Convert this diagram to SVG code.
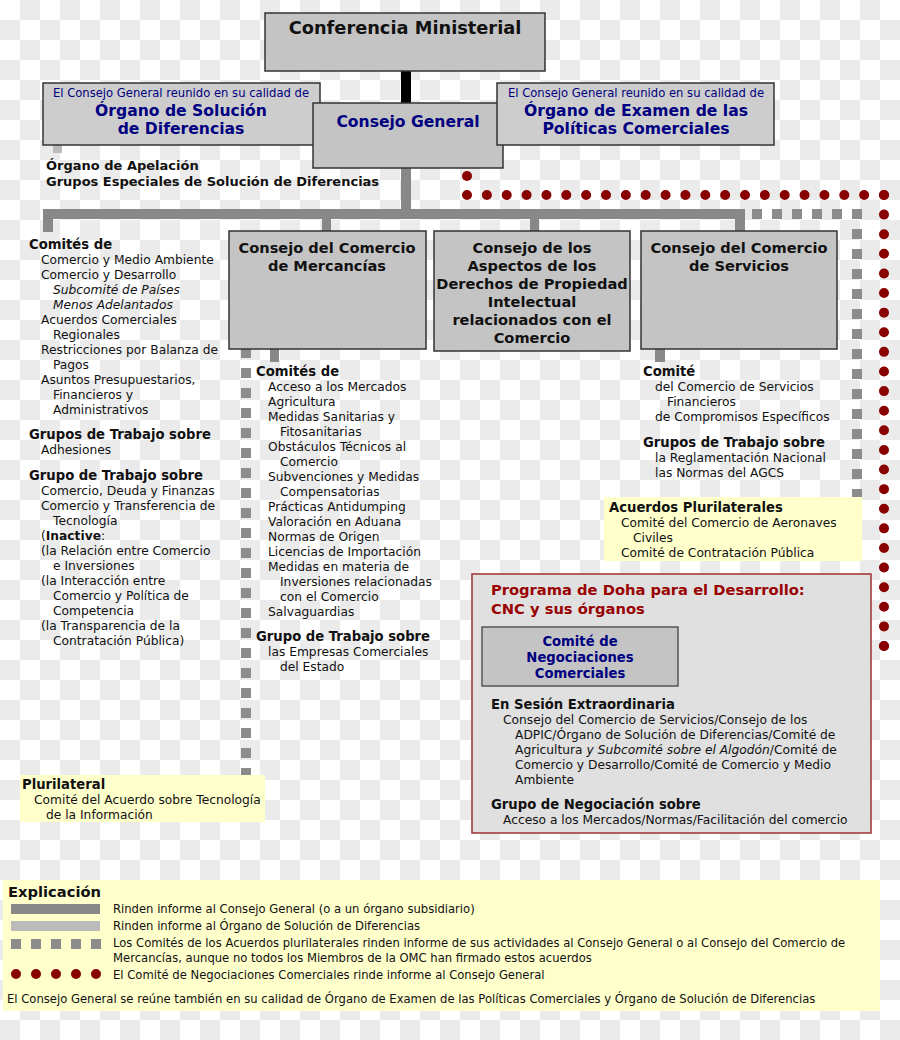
<svg xmlns="http://www.w3.org/2000/svg" width="900" height="1040" viewBox="0 0 900 1040">
<defs>
<pattern id="checker" width="40" height="40" patternUnits="userSpaceOnUse">
<rect width="40" height="40" fill="#ffffff"/>
<rect x="20" y="0" width="20" height="20" fill="#ebebeb"/>
<rect x="0" y="20" width="20" height="20" fill="#ebebeb"/>
</pattern>
<style>
text{font-family:"DejaVu Sans",Verdana,sans-serif;fill:#111}
.box{fill:#c4c4c4;stroke:#333;stroke-width:1.5}
.boxl{fill:#cdcdcd;stroke:#333;stroke-width:1.5}
.t1{font-size:17.8px;font-weight:bold;text-anchor:middle}
.tn{font-size:15.6px;font-weight:bold;fill:#000080;text-anchor:middle}
.ts{font-size:11.6px;fill:#000080;text-anchor:middle}
.tc{font-size:14.6px;font-weight:bold;text-anchor:middle}
.h{font-size:13.2px;font-weight:bold}
.b{font-size:12.25px}
.i{font-style:italic}
.lg{font-size:11.6px}
.solid{fill:#888888}
.light{fill:#bbbbbb}
.dash{fill:none;stroke:#8c8c8c;stroke-width:10;stroke-dasharray:10 10}
.dots{fill:none;stroke:#880000;stroke-width:10;stroke-linecap:round}
.yel{fill:#ffffcc}
</style>
</defs>
<rect width="900" height="1040" fill="url(#checker)"/>

<g id="connectors">
<rect x="401" y="71" width="10" height="33" fill="#000"/>
<rect class="light" x="53" y="145" width="9" height="8"/>
<rect class="solid" x="401" y="168" width="10" height="42"/>
<rect class="solid" x="43" y="209" width="702" height="10"/>
<rect class="solid" x="43" y="209" width="10" height="23"/>
<rect class="solid" x="322" y="209" width="9" height="22"/>
<rect class="solid" x="530" y="209" width="9" height="22"/>
<rect class="solid" x="735" y="209" width="10" height="22"/>
<rect class="solid" x="270" y="349" width="9" height="13"/>
<rect class="solid" x="655" y="349" width="10" height="13"/>
<path class="dash" d="M752,214 H857"/>
<path class="dash" d="M857,209 V497"/>
<path class="dash" d="M246,348 V775"/>
<path class="dots" d="M467,176 V195" stroke-dasharray="0 19"/>
<path class="dots" d="M467,195 H884.5" stroke-dasharray="0 19.857"/>
<path class="dots" d="M884,195 V646.5" stroke-dasharray="0 19.609"/>
<path class="dots" d="M884,646 H687.5" stroke-dasharray="0 19.6"/>
</g>

<g id="conferencia">
<rect class="box" x="265" y="13" width="280" height="58"/>
<text class="t1" x="405" y="34">Conferencia Ministerial</text>
</g>

<g id="osd">
<rect class="boxl" x="43" y="83" width="277" height="62"/>
<text class="ts" x="181" y="97">El Consejo General reunido en su calidad de</text>
<text class="tn" x="181" y="116">Órgano de Solución</text>
<text class="tn" x="181" y="134">de Diferencias</text>
</g>

<g id="consejo-general">
<rect class="box" x="313" y="103" width="190" height="65"/>
<text class="tn" x="408" y="127">Consejo General</text>
</g>

<g id="oepc">
<rect class="boxl" x="497" y="83" width="277" height="62"/>
<text class="ts" x="636" y="97">El Consejo General reunido en su calidad de</text>
<text class="tn" x="636" y="116">Órgano de Examen de las</text>
<text class="tn" x="636" y="134">Políticas Comerciales</text>
</g>

<g id="apelacion">
<text class="h" x="46" y="170" style="font-size:13px">Órgano de Apelación</text>
<text class="h" x="46" y="186" style="font-size:13px">Grupos Especiales de Solución de Diferencias</text>
</g>

<g id="mercancias">
<rect class="box" x="229" y="231" width="197" height="118"/>
<text class="tc" x="327" y="253">Consejo del Comercio</text>
<text class="tc" x="327" y="271">de Mercancías</text>
</g>

<g id="adpic">
<rect class="box" x="434" y="231" width="196" height="120"/>
<text class="tc" x="532" y="253">Consejo de los</text>
<text class="tc" x="532" y="271">Aspectos de los</text>
<text class="tc" x="532" y="289">Derechos de Propiedad</text>
<text class="tc" x="532" y="307">Intelectual</text>
<text class="tc" x="532" y="325">relacionados con el</text>
<text class="tc" x="532" y="343">Comercio</text>
</g>

<g id="servicios">
<rect class="box" x="641" y="231" width="196" height="118"/>
<text class="tc" x="739" y="253">Consejo del Comercio</text>
<text class="tc" x="739" y="271">de Servicios</text>
</g>

<g id="comites-cg">
<text class="h" x="29" y="249">Comités de</text>
<text class="b" x="41" y="264">Comercio y Medio Ambiente</text>
<text class="b" x="41" y="279">Comercio y Desarrollo</text>
<text class="b i" x="53" y="294">Subcomité de Países</text>
<text class="b i" x="53" y="309">Menos Adelantados</text>
<text class="b" x="41" y="324">Acuerdos Comerciales</text>
<text class="b" x="53" y="339">Regionales</text>
<text class="b" x="41" y="354">Restricciones por Balanza de</text>
<text class="b" x="53" y="369">Pagos</text>
<text class="b" x="41" y="384">Asuntos Presupuestarios,</text>
<text class="b" x="53" y="399">Financieros y</text>
<text class="b" x="53" y="414">Administrativos</text>
<text class="h" x="29" y="439">Grupos de Trabajo sobre</text>
<text class="b" x="41" y="454">Adhesiones</text>
<text class="h" x="29" y="480">Grupo de Trabajo sobre</text>
<text class="b" x="41" y="495">Comercio, Deuda y Finanzas</text>
<text class="b" x="41" y="510">Comercio y Transferencia de</text>
<text class="b" x="53" y="525">Tecnología</text>
<text class="b" x="41" y="540">(<tspan font-weight="bold">Inactive</tspan>:</text>
<text class="b" x="41" y="555">(la Relación entre Comercio</text>
<text class="b" x="53" y="570">e Inversiones</text>
<text class="b" x="41" y="585">(la Interacción entre</text>
<text class="b" x="53" y="600">Comercio y Política de</text>
<text class="b" x="53" y="615">Competencia</text>
<text class="b" x="41" y="630">(la Transparencia de la</text>
<text class="b" x="53" y="645">Contratación Pública)</text>
</g>

<g id="comites-mercancias">
<text class="h" x="256" y="376">Comités de</text>
<text class="b" x="268" y="391">Acceso a los Mercados</text>
<text class="b" x="268" y="406">Agricultura</text>
<text class="b" x="268" y="421">Medidas Sanitarias y</text>
<text class="b" x="280" y="436">Fitosanitarias</text>
<text class="b" x="268" y="451">Obstáculos Técnicos al</text>
<text class="b" x="280" y="466">Comercio</text>
<text class="b" x="268" y="481">Subvenciones y Medidas</text>
<text class="b" x="280" y="496">Compensatorias</text>
<text class="b" x="268" y="511">Prácticas Antidumping</text>
<text class="b" x="268" y="526">Valoración en Aduana</text>
<text class="b" x="268" y="541">Normas de Origen</text>
<text class="b" x="268" y="556">Licencias de Importación</text>
<text class="b" x="268" y="571">Medidas en materia de</text>
<text class="b" x="280" y="586">Inversiones relacionadas</text>
<text class="b" x="280" y="601">con el Comercio</text>
<text class="b" x="268" y="616">Salvaguardias</text>
<text class="h" x="256" y="641">Grupo de Trabajo sobre</text>
<text class="b" x="268" y="656">las Empresas Comerciales</text>
<text class="b" x="280" y="671">del Estado</text>
</g>

<g id="comites-servicios">
<text class="h" x="643" y="376">Comité</text>
<text class="b" x="655" y="391">del Comercio de Servicios</text>
<text class="b" x="667" y="406">Financieros</text>
<text class="b" x="655" y="421">de Compromisos Específicos</text>
<text class="h" x="643" y="447">Grupos de Trabajo sobre</text>
<text class="b" x="655" y="462">la Reglamentación Nacional</text>
<text class="b" x="655" y="477">las Normas del AGCS</text>
</g>

<g id="acuerdos-plurilaterales">
<rect class="yel" x="604" y="497" width="258" height="64"/>
<text class="h" x="609" y="512">Acuerdos Plurilaterales</text>
<text class="b" x="621" y="527">Comité del Comercio de Aeronaves</text>
<text class="b" x="633" y="542">Civiles</text>
<text class="b" x="621" y="557">Comité de Contratación Pública</text>
</g>

<g id="plurilateral-ti">
<rect class="yel" x="20" y="775" width="245" height="47"/>
<text class="h" x="22" y="789">Plurilateral</text>
<text class="b" x="34" y="804">Comité del Acuerdo sobre Tecnología</text>
<text class="b" x="46" y="819">de la Información</text>
</g>

<g id="doha">
<rect x="472" y="574" width="399" height="259" fill="#e0e0e0" stroke="#a03030" stroke-width="1.5"/>
<text class="h" x="491" y="595" style="font-size:14.7px;fill:#990000">Programa de Doha para el Desarrollo:</text>
<text class="h" x="491" y="614" style="font-size:14.7px;fill:#990000">CNC y sus órganos</text>
<text class="h" x="491" y="709">En Sesión Extraordinaria</text>
<text class="b" x="503" y="724">Consejo del Comercio de Servicios/Consejo de los</text>
<text class="b" x="515" y="739">ADPIC/Órgano de Solución de Diferencias/Comité de</text>
<text class="b" x="515" y="754">Agricultura <tspan font-style="italic">y Subcomité sobre el Algodón</tspan>/Comité de</text>
<text class="b" x="515" y="769">Comercio y Desarrollo/Comité de Comercio y Medio</text>
<text class="b" x="515" y="784">Ambiente</text>
<text class="h" x="491" y="809">Grupo de Negociación sobre</text>
<text class="b" x="503" y="824">Acceso a los Mercados/Normas/Facilitación del comercio</text>
</g>

<g id="cnc">
<rect x="482" y="627" width="196" height="59" fill="#c4c4c4" stroke="#555" stroke-width="1.5"/>
<text class="h" x="580" y="646" text-anchor="middle" style="fill:#000080">Comité de</text>
<text class="h" x="580" y="662" text-anchor="middle" style="fill:#000080">Negociaciones</text>
<text class="h" x="580" y="678" text-anchor="middle" style="fill:#000080">Comerciales</text>
</g>

<g id="legend">
<rect class="yel" x="3" y="880" width="877" height="131"/>
<text class="h" x="8" y="897" style="font-size:14.7px">Explicación</text>
<rect class="solid" x="11" y="904" width="89" height="10"/>
<text class="lg" x="113" y="913">Rinden informe al Consejo General (o a un órgano subsidiario)</text>
<rect class="light" x="11" y="921" width="89" height="10"/>
<text class="lg" x="113" y="930">Rinden informe al Órgano de Solución de Diferencias</text>
<path class="dash" d="M11,944 H101"/>
<text class="lg" x="113" y="947">Los Comités de los Acuerdos plurilaterales rinden informe de sus actividades al Consejo General o al Consejo del Comercio de</text>
<text class="lg" x="113" y="962">Mercancías, aunque no todos los Miembros de la OMC han firmado estos acuerdos</text>
<path class="dots" d="M16,974 H97" stroke-dasharray="0 20"/>
<text class="lg" x="113" y="979">El Comité de Negociaciones Comerciales rinde informe al Consejo General</text>
<text class="lg" x="7" y="1003">El Consejo General se reúne también en su calidad de Órgano de Examen de las Políticas Comerciales y Órgano de Solución de Diferencias</text>
</g>
</svg>
